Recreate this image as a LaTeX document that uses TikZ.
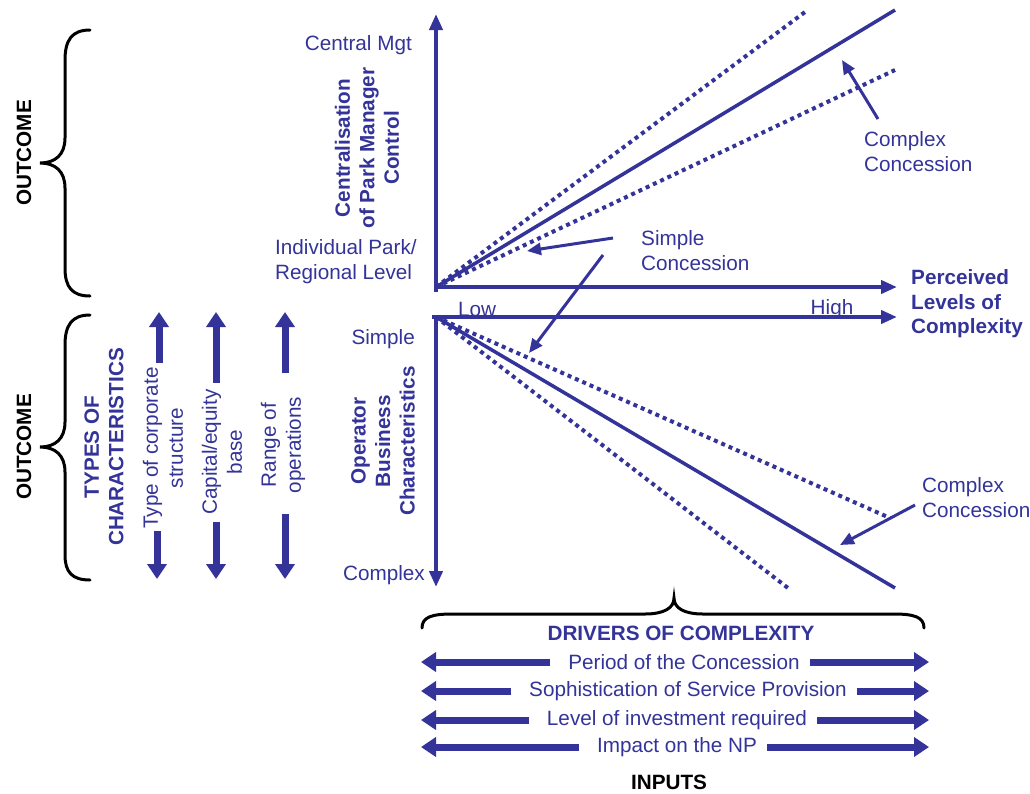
\documentclass[tikz,border=0pt]{standalone}
\usepackage{fontspec}
\setmainfont{Liberation Sans}
\usetikzlibrary{arrows.meta}
\definecolor{navy}{RGB}{51,51,153}
\begin{document}
\begin{tikzpicture}[x=1pt,y=-1pt,
  lbl/.style={text=navy,font=\fontsize{20.7}{25}\selectfont,inner sep=0pt,align=center},
  blbl/.style={lbl,font=\fontsize{20.7}{24.5}\selectfont\bfseries},
  head/.style={font=\fontsize{20.7}{25}\selectfont\bfseries,inner sep=0pt},
  axis/.style={draw=navy,line width=4.5pt,-{Triangle[length=16pt,width=13pt]}},
  trend/.style={draw=navy,line width=3.5pt},
  dots/.style={draw=navy,line width=4pt,dash pattern=on 4pt off 4pt},
  pointer/.style={draw=navy,line width=3pt,-{Triangle[length=14pt,width=12pt]}},
  fat/.style={draw=navy,line width=7pt,-{Triangle[length=15pt,width=19pt]}},
  curly/.style={draw=black,line width=3pt,line cap=round}
]
\useasboundingbox (0,0) rectangle (1030,793);

% ---- origins and axis ends
\coordinate (O1) at (436,287);
\coordinate (O2) at (436,317);
\coordinate (ytop) at (436,14);
\coordinate (xtop) at (897,287);
\coordinate (xbot) at (897,317);
\coordinate (ybot) at (436,587);

% ---- upper graph: centralisation of control
\draw[axis] (436,292) -- (ytop);
\draw[axis] (O1) -- (xtop);
\coordinate (u1) at (805,12);
\coordinate (u2) at (895,10);
\coordinate (u3) at (895,70);
\draw[dots] (O1) -- (u1);
\draw[trend] (O1) -- (u2);
\draw[dots] (O1) -- (u3);

% ---- lower graph: operator characteristics
\draw[axis] (432,317) -- (xbot);
\draw[axis] (O2) -- (ybot);
\coordinate (l1) at (890,518);
\coordinate (l2) at (895,588);
\coordinate (l3) at (788,588);
\draw[dots] (O2) -- (l1);
\draw[trend] (O2) -- (l2);
\draw[dots] (O2) -- (l3);

% ---- axis labels
\node[lbl,anchor=east] (cm) at (412,45) {Central Mgt};
\node[lbl,anchor=west,align=left] (ip) at (275,262) {Individual Park/\\Regional Level};
\node[blbl,rotate=90] (cp) at (367,148) {Centralisation\\of Park Manager\\Control};
\node[lbl,anchor=east] (sim) at (415,339) {Simple};
\node[lbl,anchor=east] (cpx) at (425,575) {Complex};
\node[blbl,rotate=90] (obc) at (383,441) {Operator\\Business\\Characteristics};
\node[lbl] (low) at (477,309) {Low};
\node[lbl] (high) at (832,309) {High};
\node[blbl,anchor=west,align=left] (plc) at (911,304) {Perceived\\Levels of\\Complexity};

% ---- concession annotations
\node[lbl,anchor=west,align=left] (sc) at (641,251) {Simple\\Concession};
\node[lbl,anchor=west,align=left] (cc1) at (864,152) {Complex\\Concession};
\node[lbl,anchor=west,align=left] (cc2) at (922,498) {Complex\\Concession};
\coordinate (sa1) at (613,238);
\coordinate (sh1) at (527,251);
\coordinate (sa2) at (603,255);
\coordinate (sh2) at (529,353);
\coordinate (ca1) at (878,119);
\coordinate (ch1) at (842,60);
\coordinate (ca2) at (915,505);
\coordinate (ch2) at (840,545);
\draw[pointer] (sa1) -- (sh1);
\draw[pointer] (sa2) -- (sh2);
\draw[pointer] (ca1) -- (ch1);
\draw[pointer] (ca2) -- (ch2);

% ---- left side: outcome braces and characteristics
\draw[curly] (90,30) .. controls (72,30) and (65,40) .. (65,60) -- (65,138)
  .. controls (65,155) and (55,163) .. (40,163)
  .. controls (55,163) and (65,171) .. (65,188) -- (65,268)
  .. controls (65,287) and (72,296) .. (90,296);
\draw[curly] (90,315) .. controls (72,315) and (65,325) .. (65,345) -- (65,422)
  .. controls (65,439) and (55,447) .. (40,447)
  .. controls (55,447) and (65,455) .. (65,472) -- (65,555)
  .. controls (65,572) and (72,580) .. (90,580);
\node[head,rotate=90] (out1) at (24,153) {OUTCOME};
\node[head,rotate=90] (out2) at (24,447) {OUTCOME};
\node[blbl,rotate=90] (toc) at (104,447) {TYPES OF\\CHARACTERISTICS};
\node[lbl,rotate=90] (t1) at (163,448) {Type of corporate\\structure};
\node[lbl,rotate=90] (t2) at (222,452) {Capital/equity\\base};
\node[lbl,rotate=90] (t3) at (283,445) {Range of\\operations};
\coordinate (t1u) at (159,363); \coordinate (t1ut) at (159,312);
\coordinate (t1d) at (157,531); \coordinate (t1dt) at (157,579);
\coordinate (t2u) at (216,383); \coordinate (t2ut) at (216,312);
\coordinate (t2d) at (216,522); \coordinate (t2dt) at (216,579);
\coordinate (t3u) at (285,373); \coordinate (t3ut) at (285,312);
\coordinate (t3d) at (285,514); \coordinate (t3dt) at (285,579);
\draw[fat] (t1u) -- (t1ut);
\draw[fat] (t1d) -- (t1dt);
\draw[fat] (t2u) -- (t2ut);
\draw[fat] (t2d) -- (t2dt);
\draw[fat] (t3u) -- (t3ut);
\draw[fat] (t3d) -- (t3dt);

% ---- bottom: drivers of complexity
\draw[curly] (422,628) .. controls (422,617) and (432,614) .. (452,614) -- (645,614)
  .. controls (664,614) and (674,608) .. (674,598)
  .. controls (674,608) and (684,614) .. (703,614) -- (894,614)
  .. controls (914,614) and (924,617) .. (924,628);
\node[blbl] (doc) at (681,633) {DRIVERS OF COMPLEXITY};
\node[lbl] (d1) at (684,662) {Period of the Concession};
\node[lbl] (d2) at (688,691) {Sophistication of Service Provision};
\node[lbl] (d3) at (677,720) {Level of investment required};
\node[lbl] (d4) at (677,747) {Impact on the NP};
\coordinate (e1l) at (421,662); \coordinate (e1r) at (929,662);
\coordinate (e2l) at (421,691); \coordinate (e2r) at (929,691);
\coordinate (e3l) at (421,720); \coordinate (e3r) at (929,720);
\coordinate (e4l) at (421,747); \coordinate (e4r) at (929,747);
\draw[fat] ([xshift=-18pt]d1.west) -- (e1l);
\draw[fat] ([xshift=10pt]d1.east) -- (e1r);
\draw[fat] ([xshift=-18pt]d2.west) -- (e2l);
\draw[fat] ([xshift=10pt]d2.east) -- (e2r);
\draw[fat] ([xshift=-18pt]d3.west) -- (e3l);
\draw[fat] ([xshift=10pt]d3.east) -- (e3r);
\draw[fat] ([xshift=-18pt]d4.west) -- (e4l);
\draw[fat] ([xshift=10pt]d4.east) -- (e4r);
\node[head] (inp) at (669,782) {INPUTS};
\end{tikzpicture}
\end{document}
